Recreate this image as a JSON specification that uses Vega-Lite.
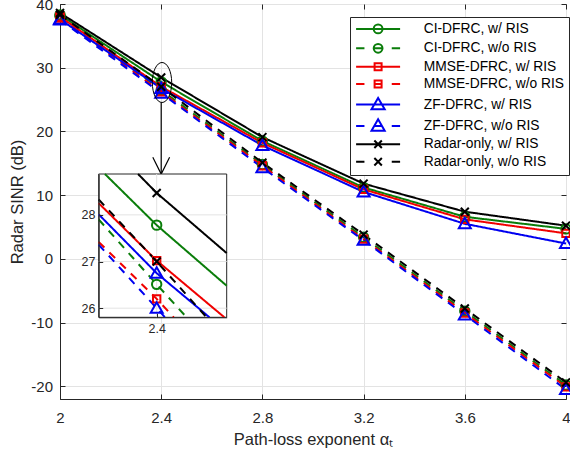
{
  "$schema": "https://vega.github.io/schema/vega-lite/v6.json",
  "width": 506,
  "height": 395,
  "autosize": {"type": "none"},
  "padding": {"left": 60, "top": 4, "right": 4, "bottom": 58},
  "background": "white",
  "config": {
    "view": {"stroke": "#262626", "strokeWidth": 1},
    "font": "Liberation Sans",
    "axis": {
      "domainColor": "#262626",
      "tickColor": "#262626",
      "labelColor": "#262626",
      "titleColor": "#262626",
      "titleFontWeight": "normal",
      "labelFlush": false,
      "labelOverlap": false,
      "gridColor": "#e3e3e3",
      "gridWidth": 1
    }
  },
  "datasets": {
    "main": [
      {"s": "CI-DFRC, w/ RIS", "ris": "w/", "x": 2.0, "y": 38.3},
      {"s": "CI-DFRC, w/ RIS", "ris": "w/", "x": 2.4, "y": 27.78},
      {"s": "CI-DFRC, w/ RIS", "ris": "w/", "x": 2.8, "y": 18.5},
      {"s": "CI-DFRC, w/ RIS", "ris": "w/", "x": 3.2, "y": 11.2},
      {"s": "CI-DFRC, w/ RIS", "ris": "w/", "x": 3.6, "y": 6.6},
      {"s": "CI-DFRC, w/ RIS", "ris": "w/", "x": 4.0, "y": 4.7},
      {"s": "CI-DFRC, w/o RIS", "ris": "w/o", "x": 2.0, "y": 38.1},
      {"s": "CI-DFRC, w/o RIS", "ris": "w/o", "x": 2.4, "y": 26.51},
      {"s": "CI-DFRC, w/o RIS", "ris": "w/o", "x": 2.8, "y": 14.8},
      {"s": "CI-DFRC, w/o RIS", "ris": "w/o", "x": 3.2, "y": 3.4},
      {"s": "CI-DFRC, w/o RIS", "ris": "w/o", "x": 3.6, "y": -8.2},
      {"s": "CI-DFRC, w/o RIS", "ris": "w/o", "x": 4.0, "y": -19.8},
      {"s": "MMSE-DFRC, w/ RIS", "ris": "w/", "x": 2.0, "y": 38.0},
      {"s": "MMSE-DFRC, w/ RIS", "ris": "w/", "x": 2.4, "y": 27.02},
      {"s": "MMSE-DFRC, w/ RIS", "ris": "w/", "x": 2.8, "y": 18.2},
      {"s": "MMSE-DFRC, w/ RIS", "ris": "w/", "x": 3.2, "y": 10.9},
      {"s": "MMSE-DFRC, w/ RIS", "ris": "w/", "x": 3.6, "y": 6.2},
      {"s": "MMSE-DFRC, w/ RIS", "ris": "w/", "x": 4.0, "y": 4.0},
      {"s": "MMSE-DFRC, w/o RIS", "ris": "w/o", "x": 2.0, "y": 37.8},
      {"s": "MMSE-DFRC, w/o RIS", "ris": "w/o", "x": 2.4, "y": 26.2},
      {"s": "MMSE-DFRC, w/o RIS", "ris": "w/o", "x": 2.8, "y": 14.6},
      {"s": "MMSE-DFRC, w/o RIS", "ris": "w/o", "x": 3.2, "y": 3.1},
      {"s": "MMSE-DFRC, w/o RIS", "ris": "w/o", "x": 3.6, "y": -8.5},
      {"s": "MMSE-DFRC, w/o RIS", "ris": "w/o", "x": 4.0, "y": -20.1},
      {"s": "ZF-DFRC, w/ RIS", "ris": "w/", "x": 2.0, "y": 37.6},
      {"s": "ZF-DFRC, w/ RIS", "ris": "w/", "x": 2.4, "y": 26.75},
      {"s": "ZF-DFRC, w/ RIS", "ris": "w/", "x": 2.8, "y": 17.8},
      {"s": "ZF-DFRC, w/ RIS", "ris": "w/", "x": 3.2, "y": 10.5},
      {"s": "ZF-DFRC, w/ RIS", "ris": "w/", "x": 3.6, "y": 5.5},
      {"s": "ZF-DFRC, w/ RIS", "ris": "w/", "x": 4.0, "y": 2.4},
      {"s": "ZF-DFRC, w/o RIS", "ris": "w/o", "x": 2.0, "y": 37.5},
      {"s": "ZF-DFRC, w/o RIS", "ris": "w/o", "x": 2.4, "y": 26.0},
      {"s": "ZF-DFRC, w/o RIS", "ris": "w/o", "x": 2.8, "y": 14.3},
      {"s": "ZF-DFRC, w/o RIS", "ris": "w/o", "x": 3.2, "y": 2.9},
      {"s": "ZF-DFRC, w/o RIS", "ris": "w/o", "x": 3.6, "y": -8.8},
      {"s": "ZF-DFRC, w/o RIS", "ris": "w/o", "x": 4.0, "y": -20.5},
      {"s": "Radar-only, w/ RIS", "ris": "w/", "x": 2.0, "y": 38.6},
      {"s": "Radar-only, w/ RIS", "ris": "w/", "x": 2.4, "y": 28.47},
      {"s": "Radar-only, w/ RIS", "ris": "w/", "x": 2.8, "y": 19.1},
      {"s": "Radar-only, w/ RIS", "ris": "w/", "x": 3.2, "y": 11.8},
      {"s": "Radar-only, w/ RIS", "ris": "w/", "x": 3.6, "y": 7.4},
      {"s": "Radar-only, w/ RIS", "ris": "w/", "x": 4.0, "y": 5.2},
      {"s": "Radar-only, w/o RIS", "ris": "w/o", "x": 2.0, "y": 38.3},
      {"s": "Radar-only, w/o RIS", "ris": "w/o", "x": 2.4, "y": 27.0},
      {"s": "Radar-only, w/o RIS", "ris": "w/o", "x": 2.8, "y": 15.1},
      {"s": "Radar-only, w/o RIS", "ris": "w/o", "x": 3.2, "y": 3.8},
      {"s": "Radar-only, w/o RIS", "ris": "w/o", "x": 3.6, "y": -7.8},
      {"s": "Radar-only, w/o RIS", "ris": "w/o", "x": 4.0, "y": -19.4}
    ],
    "inset": [
      {"s": "CI-DFRC, w/ RIS", "ris": "w/", "x": 2.3583, "y": 28.876},
      {"s": "CI-DFRC, w/ RIS", "ris": "w/", "x": 2.4, "y": 27.78},
      {"s": "CI-DFRC, w/ RIS", "ris": "w/", "x": 2.4564, "y": 26.48},
      {"s": "CI-DFRC, w/o RIS", "ris": "w/o", "x": 2.3533, "y": 27.9},
      {"s": "CI-DFRC, w/o RIS", "ris": "w/o", "x": 2.4, "y": 26.51},
      {"s": "CI-DFRC, w/o RIS", "ris": "w/o", "x": 2.4241, "y": 25.804},
      {"s": "MMSE-DFRC, w/ RIS", "ris": "w/", "x": 2.3533, "y": 28.25},
      {"s": "MMSE-DFRC, w/ RIS", "ris": "w/", "x": 2.4, "y": 27.02},
      {"s": "MMSE-DFRC, w/ RIS", "ris": "w/", "x": 2.4545, "y": 25.804},
      {"s": "MMSE-DFRC, w/o RIS", "ris": "w/o", "x": 2.3533, "y": 27.42},
      {"s": "MMSE-DFRC, w/o RIS", "ris": "w/o", "x": 2.4, "y": 26.2},
      {"s": "MMSE-DFRC, w/o RIS", "ris": "w/o", "x": 2.4137, "y": 25.804},
      {"s": "ZF-DFRC, w/ RIS", "ris": "w/", "x": 2.3533, "y": 28.01},
      {"s": "ZF-DFRC, w/ RIS", "ris": "w/", "x": 2.4, "y": 26.75},
      {"s": "ZF-DFRC, w/ RIS", "ris": "w/", "x": 2.4425, "y": 25.804},
      {"s": "ZF-DFRC, w/o RIS", "ris": "w/o", "x": 2.3533, "y": 27.36},
      {"s": "ZF-DFRC, w/o RIS", "ris": "w/o", "x": 2.4, "y": 26.0},
      {"s": "ZF-DFRC, w/o RIS", "ris": "w/o", "x": 2.4067, "y": 25.804},
      {"s": "Radar-only, w/ RIS", "ris": "w/", "x": 2.385, "y": 28.876},
      {"s": "Radar-only, w/ RIS", "ris": "w/", "x": 2.4, "y": 28.47},
      {"s": "Radar-only, w/ RIS", "ris": "w/", "x": 2.4564, "y": 27.18},
      {"s": "Radar-only, w/o RIS", "ris": "w/o", "x": 2.3533, "y": 28.33},
      {"s": "Radar-only, w/o RIS", "ris": "w/o", "x": 2.4, "y": 27.0},
      {"s": "Radar-only, w/o RIS", "ris": "w/o", "x": 2.4402, "y": 25.804}
    ]
  },
  "layer": [
    {
      "layer": [
        {
          "data": {"name": "main"},
          "mark": {"type": "point", "filled": false, "opacity": 0, "size": 1},
          "encoding": {
            "x": {"field": "x", "type": "quantitative",
              "scale": {"domain": [2, 4], "nice": false, "zero": false},
              "axis": {"values": [2, 2.4, 2.8, 3.2, 3.6, 4], "format": "~g", "title": "Path-loss exponent  α\u209c",
                "grid": true, "tickSize": -5, "labelPadding": 16, "labelFontSize": 15, "titleFontSize": 16.5, "titlePadding": 6}},
            "y": {"field": "y", "type": "quantitative",
              "scale": {"domain": [-22, 40], "nice": false, "zero": false},
              "axis": {"values": [-20, -10, 0, 10, 20, 30, 40], "title": "Radar SINR (dB)", "labelExpr": "replace(datum.label, '\u2212', '-')",
                "grid": true, "tickSize": -5, "labelPadding": 12.5, "labelFontSize": 15, "titleFontSize": 16.5, "titlePadding": 5}},
            "color": {"field": "s", "type": "nominal",
              "scale": {
                "domain": ["CI-DFRC, w/ RIS", "CI-DFRC, w/o RIS", "MMSE-DFRC, w/ RIS", "MMSE-DFRC, w/o RIS", "ZF-DFRC, w/ RIS", "ZF-DFRC, w/o RIS", "Radar-only, w/ RIS", "Radar-only, w/o RIS"],
                "range": ["#0a7d0a", "#0a7d0a", "#f00000", "#f00000", "#0000f0", "#0000f0", "#000000", "#000000"]
              },
              "legend": {
                "orient": "none", "legendX": 290, "legendY": 13, "title": null,
                "symbolSize": 100, "symbolStrokeWidth": 2, "symbolOpacity": 1,
                "labelFontSize": 13.8, "labelColor": "#000000", "labelFont": "Liberation Sans", "labelAlign": "left",
                "padding": 5, "rowPadding": 1.4, "symbolOffset": 16.2, "labelOffset": 38.7,
                "strokeColor": "#262626", "fillColor": "white"
              }
            },
            "shape": {"field": "s", "type": "nominal",
              "scale": {
                "domain": ["CI-DFRC, w/ RIS", "CI-DFRC, w/o RIS", "MMSE-DFRC, w/ RIS", "MMSE-DFRC, w/o RIS", "ZF-DFRC, w/ RIS", "ZF-DFRC, w/o RIS", "Radar-only, w/ RIS", "Radar-only, w/o RIS"],
                "range": [
                  "M-4.4,0L4.4,0M-0.88,0A0.88,0.88,0,1,1,0.88,0A0.88,0.88,0,1,1,-0.88,0",
                  "M-4.4,0L-2.73,0M-0.8,0L0.8,0M2.73,0L4.4,0M-0.88,0A0.88,0.88,0,1,1,0.88,0A0.88,0.88,0,1,1,-0.88,0",
                  "M-4.4,0L4.4,0M-0.7,-0.7L0.7,-0.7L0.7,0.7L-0.7,0.7Z",
                  "M-4.4,0L-2.73,0M-0.8,0L0.8,0M2.73,0L4.4,0M-0.7,-0.7L0.7,-0.7L0.7,0.7L-0.7,0.7Z",
                  "M-4.4,0L4.4,0M0,-1.32L-1.32,0.97L1.32,0.97Z",
                  "M-4.4,0L-2.73,0M-0.8,0L0.8,0M2.73,0L4.4,0M0,-1.32L-1.32,0.97L1.32,0.97Z",
                  "M-4.4,0L4.4,0M-0.75,-0.75L0.75,0.75M-0.75,0.75L0.75,-0.75",
                  "M-4.4,0L-2.73,0M2.73,0L4.4,0M-0.75,-0.75L0.75,0.75M-0.75,0.75L0.75,-0.75"
                ]
              },
              "legend": {
                "orient": "none", "legendX": 290, "legendY": 13, "title": null,
                "symbolSize": 100, "symbolStrokeWidth": 2, "symbolOpacity": 1,
                "labelFontSize": 13.8, "labelColor": "#000000", "labelFont": "Liberation Sans", "labelAlign": "left",
                "padding": 5, "rowPadding": 1.4, "symbolOffset": 16.2, "labelOffset": 38.7,
                "strokeColor": "#262626", "fillColor": "white"
              }
            }
          }
        },
        {
          "data": {"name": "main"},
          "mark": {"type": "line", "strokeWidth": 2},
          "encoding": {
            "x": {"field": "x", "type": "quantitative"},
            "y": {"field": "y", "type": "quantitative"},
            "color": {"field": "s", "type": "nominal", "legend": null},
            "strokeDash": {"field": "ris", "type": "nominal", "scale": {"domain": ["w/", "w/o"], "range": [[1, 0], [8, 7]]}, "legend": null},
            "detail": {"field": "s"}
          }
        },
        {
          "data": {"name": "main"},
          "transform": [{"filter": {"field": "s", "oneOf": ["CI-DFRC, w/ RIS", "CI-DFRC, w/o RIS"]}}],
          "mark": {"type": "point", "shape": "M-0.47,0A0.47,0.47,0,1,1,0.47,0A0.47,0.47,0,1,1,-0.47,0", "filled": false, "strokeWidth": 2, "size": 400, "opacity": 1},
          "encoding": {
            "x": {"field": "x", "type": "quantitative"},
            "y": {"field": "y", "type": "quantitative"},
            "color": {"field": "s", "type": "nominal", "legend": null}
          }
        },
        {
          "data": {"name": "main"},
          "transform": [{"filter": {"field": "s", "oneOf": ["MMSE-DFRC, w/ RIS", "MMSE-DFRC, w/o RIS"]}}],
          "mark": {"type": "point", "shape": "M-0.37,-0.37L0.37,-0.37L0.37,0.37L-0.37,0.37Z", "filled": false, "strokeWidth": 2, "size": 400, "opacity": 1},
          "encoding": {
            "x": {"field": "x", "type": "quantitative"},
            "y": {"field": "y", "type": "quantitative"},
            "color": {"field": "s", "type": "nominal", "legend": null}
          }
        },
        {
          "data": {"name": "main"},
          "transform": [{"filter": {"field": "s", "oneOf": ["ZF-DFRC, w/ RIS", "ZF-DFRC, w/o RIS"]}}],
          "mark": {"type": "point", "shape": "M0,-0.6L-0.6,0.45L0.6,0.45Z", "filled": false, "strokeWidth": 2, "size": 400, "opacity": 1},
          "encoding": {
            "x": {"field": "x", "type": "quantitative"},
            "y": {"field": "y", "type": "quantitative"},
            "color": {"field": "s", "type": "nominal", "legend": null}
          }
        },
        {
          "data": {"name": "main"},
          "transform": [{"filter": {"field": "s", "oneOf": ["Radar-only, w/ RIS", "Radar-only, w/o RIS"]}}],
          "mark": {"type": "point", "shape": "M-0.4,-0.4L0.4,0.4M-0.4,0.4L0.4,-0.4", "filled": false, "strokeWidth": 2, "size": 400, "opacity": 1},
          "encoding": {
            "x": {"field": "x", "type": "quantitative"},
            "y": {"field": "y", "type": "quantitative"},
            "color": {"field": "s", "type": "nominal", "legend": null}
          }
        },
        {
          "data": {"values": [{"x": 2.4032, "y": 27.68}]},
          "mark": {"type": "point", "shape": "M-0.485,0A0.485,1,0,1,1,0.485,0A0.485,1,0,1,1,-0.485,0", "size": 1600, "filled": false, "stroke": "black", "strokeWidth": 1, "opacity": 1},
          "encoding": {
            "x": {"field": "x", "type": "quantitative"},
            "y": {"field": "y", "type": "quantitative"}
          }
        },
        {
          "data": {"values": [{"x": 2.4, "y": 24.55, "y2": 13.35}]},
          "mark": {"type": "rule", "stroke": "black", "strokeWidth": 1.2},
          "encoding": {
            "x": {"field": "x", "type": "quantitative"},
            "y": {"field": "y", "type": "quantitative"},
            "y2": {"field": "y2"}
          }
        },
        {
          "data": {"values": [{"x": 2.4, "y": 14.62}]},
          "mark": {"type": "point", "shape": "M-1,-1L0,1L1,-1", "size": 282, "filled": false, "stroke": "black", "strokeWidth": 1.2, "opacity": 1},
          "encoding": {
            "x": {"field": "x", "type": "quantitative"},
            "y": {"field": "y", "type": "quantitative"}
          }
        }
      ]
    },
    {
      "layer": [
        {
          "data": {"values": [{"x": 2.3533, "x2": 2.4564, "y": 25.804, "y2": 28.876}]},
          "mark": {"type": "rect", "fill": "white", "stroke": "#262626", "strokeWidth": 1},
          "encoding": {
            "x": {"field": "x", "type": "quantitative",
              "scale": {"domain": [2.3533, 2.4564], "range": [38.7, 166.7], "nice": false, "zero": false},
              "axis": {"orient": "bottom", "offset": -81.7, "values": [2.4], "format": "~g", "title": null, "grid": false,
                "tickSize": -4, "labelPadding": 9.3, "labelFontSize": 12.5, "zindex": 1}},
            "x2": {"field": "x2"},
            "y": {"field": "y", "type": "quantitative",
              "scale": {"domain": [25.804, 28.876], "range": [313.3, 170], "nice": false, "zero": false},
              "axis": {"orient": "left", "offset": -38.7, "values": [26, 27, 28], "format": "d", "title": null, "grid": false,
                "tickSize": -4, "labelPadding": 7.7, "labelFontSize": 12.5, "zindex": 1}},
            "y2": {"field": "y2"}
          }
        },
        {
          "data": {"values": [{"y": 26, "x": 2.3533, "x2": 2.4564}, {"y": 27, "x": 2.3533, "x2": 2.4564}, {"y": 28, "x": 2.3533, "x2": 2.4564}]},
          "mark": {"type": "rule", "stroke": "#e3e3e3", "strokeWidth": 1},
          "encoding": {
            "x": {"field": "x", "type": "quantitative"},
            "x2": {"field": "x2"},
            "y": {"field": "y", "type": "quantitative"}
          }
        },
        {
          "data": {"values": [{"x": 2.4, "y": 25.804, "y2": 28.876}]},
          "mark": {"type": "rule", "stroke": "#e3e3e3", "strokeWidth": 1},
          "encoding": {
            "x": {"field": "x", "type": "quantitative"},
            "y": {"field": "y", "type": "quantitative"},
            "y2": {"field": "y2"}
          }
        },
        {
          "data": {"name": "inset"},
          "mark": {"type": "line", "strokeWidth": 2},
          "encoding": {
            "x": {"field": "x", "type": "quantitative"},
            "y": {"field": "y", "type": "quantitative"},
            "color": {"field": "s", "type": "nominal", "legend": null},
            "strokeDash": {"field": "ris", "type": "nominal", "legend": null},
            "detail": {"field": "s"}
          }
        },
        {
          "data": {"name": "inset"},
          "transform": [{"filter": "datum.x == 2.4 && (datum.s == 'CI-DFRC, w/ RIS' || datum.s == 'CI-DFRC, w/o RIS')"}],
          "mark": {"type": "point", "shape": "M-0.47,0A0.47,0.47,0,1,1,0.47,0A0.47,0.47,0,1,1,-0.47,0", "filled": false, "strokeWidth": 2, "size": 400, "opacity": 1},
          "encoding": {
            "x": {"field": "x", "type": "quantitative"},
            "y": {"field": "y", "type": "quantitative"},
            "color": {"field": "s", "type": "nominal", "legend": null}
          }
        },
        {
          "data": {"name": "inset"},
          "transform": [{"filter": "datum.x == 2.4 && (datum.s == 'MMSE-DFRC, w/ RIS' || datum.s == 'MMSE-DFRC, w/o RIS')"}],
          "mark": {"type": "point", "shape": "M-0.37,-0.37L0.37,-0.37L0.37,0.37L-0.37,0.37Z", "filled": false, "strokeWidth": 2, "size": 400, "opacity": 1},
          "encoding": {
            "x": {"field": "x", "type": "quantitative"},
            "y": {"field": "y", "type": "quantitative"},
            "color": {"field": "s", "type": "nominal", "legend": null}
          }
        },
        {
          "data": {"name": "inset"},
          "transform": [{"filter": "datum.x == 2.4 && (datum.s == 'ZF-DFRC, w/ RIS' || datum.s == 'ZF-DFRC, w/o RIS')"}],
          "mark": {"type": "point", "shape": "M0,-0.6L-0.6,0.45L0.6,0.45Z", "filled": false, "strokeWidth": 2, "size": 400, "opacity": 1},
          "encoding": {
            "x": {"field": "x", "type": "quantitative"},
            "y": {"field": "y", "type": "quantitative"},
            "color": {"field": "s", "type": "nominal", "legend": null}
          }
        },
        {
          "data": {"name": "inset"},
          "transform": [{"filter": "datum.x == 2.4 && (datum.s == 'Radar-only, w/ RIS' || datum.s == 'Radar-only, w/o RIS')"}],
          "mark": {"type": "point", "shape": "M-0.4,-0.4L0.4,0.4M-0.4,0.4L0.4,-0.4", "filled": false, "strokeWidth": 2, "size": 400, "opacity": 1},
          "encoding": {
            "x": {"field": "x", "type": "quantitative"},
            "y": {"field": "y", "type": "quantitative"},
            "color": {"field": "s", "type": "nominal", "legend": null}
          }
        }
      ]
    },
    {
      "data": {"name": "main"},
      "mark": {"type": "point", "opacity": 0, "size": 1},
      "encoding": {
        "x": {"field": "x", "type": "quantitative",
          "scale": {"domain": [2, 4], "nice": false, "zero": false},
          "axis": {"orient": "top", "values": [2, 2.4, 2.8, 3.2, 3.6, 4], "labels": false, "domain": false, "grid": false, "tickSize": -5, "title": null}},
        "y": {"field": "y", "type": "quantitative",
          "scale": {"domain": [-22, 40], "nice": false, "zero": false},
          "axis": {"orient": "right", "values": [-20, -10, 0, 10, 20, 30, 40], "labels": false, "domain": false, "grid": false, "tickSize": -5, "title": null}}
      }
    }
  ],
  "resolve": {"scale": {"x": "independent", "y": "independent"}}
}
